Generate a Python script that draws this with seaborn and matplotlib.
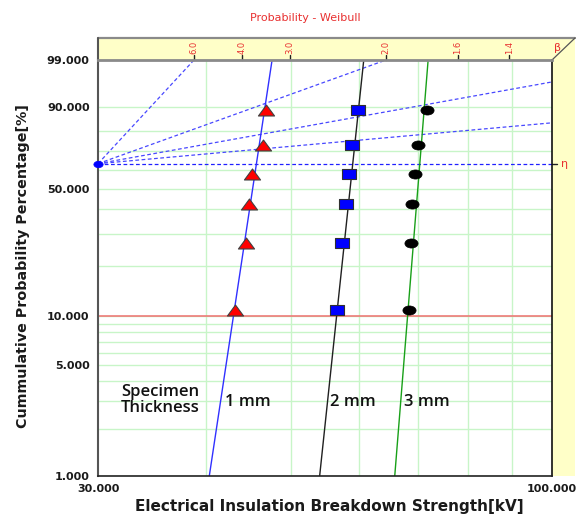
import numpy as np
import matplotlib
matplotlib.use("Agg")
import matplotlib.pyplot as plt
import seaborn as sns
from matplotlib.path import Path
from matplotlib.transforms import Affine2D
from matplotlib.patches import Polygon
from matplotlib.ticker import NullLocator

# median-rank probability (%) of the six specimens in each group
prob = [10.9, 26.6, 42.2, 57.8, 73.4, 89.1]
kv_1mm = [43.1, 44.4, 44.8, 45.1, 46.5, 46.8]
kv_2mm = [56.5, 57.3, 57.9, 58.4, 58.8, 59.8]
kv_3mm = [68.5, 68.8, 68.9, 69.6, 70.0, 71.7]

# fitted Weibull lines, read where they cross 1 % and 99 %
fit_prob = [1.0, 99.0]
fit_1mm = [40.3, 47.6]
fit_2mm = [54.0, 60.7]
fit_3mm = [65.9, 72.0]

# beta guide lines and the beta scale on the top band
beta_lines = [6.0, 2.0, 1.0, 0.5]
beta_ticks = [6.0, 4.0, 3.0, 2.0, 1.6, 1.4]

y_ticks = [1, 5, 10, 50, 90, 99]
y_grid = [1, 2, 3, 4, 5, 6, 7, 8, 9, 10, 20, 30, 40, 50, 60, 70, 80, 90]
x_grid = [40, 50, 60, 70, 80, 90]
x_ticks = [30, 100]
x_min, x_max = 30, 100
eta_prob = 100 * (1 - np.exp(-1))

RED = "#e83030"
GRID = "#c8f5c8"


def fwd(p):
    p = np.clip(np.asarray(p, dtype=float), 1e-4, 99.9999) / 100.0
    return np.log(-np.log(1 - p))


def inv(w):
    with np.errstate(over="ignore"):
        return 100.0 * (1 - np.exp(-np.exp(np.asarray(w, dtype=float))))


sns.set_style("white")
plt.rcParams["font.family"] = ["DejaVu Sans"]

fig = plt.figure(figsize=(5.82, 5.17), dpi=100)
ax = fig.add_axes([98 / 582, 1 - 476 / 517, 454 / 582, 416 / 517])
ax.set_xscale("log")
ax.set_yscale("function", functions=(fwd, inv))
ax.set_xlim(x_min, x_max)
ax.set_ylim(1, 99)

# grid
for g in y_grid:
    ax.axhline(g, color=GRID, lw=1, zorder=0.5)
for g in x_grid:
    ax.axvline(g, color=GRID, lw=1, zorder=0.5)
ax.axhline(10, color="#f07070", lw=1.1, zorder=0.6)

# beta guide lines from the pivot
w99 = float(fwd(99.0))
for b in beta_lines:
    x_end = min(x_max, x_min * np.exp(w99 / b))
    p_end = float(inv(b * np.log(x_end / x_min)))
    ax.plot([x_min, x_end], [eta_prob, p_end], ls=(0, (3, 2)), color="#4848ff",
            lw=0.9, zorder=1)
ax.plot([x_min, x_max], [eta_prob, eta_prob], ls=(0, (3, 2)), color="#2020ff",
        lw=0.9, zorder=1)

# fitted lines
sns.lineplot(x=fit_1mm, y=fit_prob, color="#3030ff", lw=1, sort=False, estimator=None, ax=ax, zorder=2)
sns.lineplot(x=fit_2mm, y=fit_prob, color="#202020", lw=1, sort=False, estimator=None, ax=ax, zorder=2)
sns.lineplot(x=fit_3mm, y=fit_prob, color="#18a018", lw=1, sort=False, estimator=None, ax=ax, zorder=2)

# markers
tri = Path([(0, 0.68), (-1, -0.68), (1, -0.68), (0, 0.68)],
           [Path.MOVETO, Path.LINETO, Path.LINETO, Path.CLOSEPOLY])
rect = Path([(-1.45, -1), (1.45, -1), (1.45, 1), (-1.45, 1), (-1.45, -1)],
            [Path.MOVETO, Path.LINETO, Path.LINETO, Path.LINETO, Path.CLOSEPOLY])
ell = Path.unit_circle().transformed(Affine2D().scale(1.45, 1))

sns.scatterplot(x=kv_1mm, y=prob, marker=tri, s=135, color="#ff0000",
                edgecolor="#404040", linewidth=0.8, ax=ax, zorder=5)
sns.scatterplot(x=kv_2mm, y=prob, marker=rect, s=90, color="#0000ff",
                edgecolor="#303030", linewidth=0.8, ax=ax, zorder=5)
sns.scatterplot(x=kv_3mm, y=prob, marker=ell, s=90, color="#000000",
                edgecolor="#000000", linewidth=0.5, ax=ax, zorder=5)
sns.scatterplot(x=[x_min], y=[eta_prob], marker=ell, s=45, color="#0000ff",
                edgecolor="#0000ff", linewidth=0.5, ax=ax, zorder=6, clip_on=False)

# ticks
ax.set_xticks(x_ticks)
ax.set_xticklabels([f"{v:.3f}" for v in x_ticks])
ax.set_yticks(y_ticks)
ax.set_yticklabels([f"{v:.3f}" for v in y_ticks])
ax.xaxis.set_minor_locator(NullLocator())
ax.yaxis.set_minor_locator(NullLocator())
ax.tick_params(axis="both", direction="out", length=4, width=1, color="#444444",
               labelsize=8, labelcolor="#1a1a1a", pad=2)
for lab in ax.get_xticklabels() + ax.get_yticklabels():
    lab.set_fontweight("bold")

for side, col, lw in [("left", "#555555", 1.5), ("bottom", "#222222", 1.2),
                      ("right", "#111111", 1.2), ("top", "#8a8a8a", 2.0)]:
    ax.spines[side].set_color(col)
    ax.spines[side].set_linewidth(lw)
    ax.spines[side].set_visible(True)

# yellow beta band on top and right
bx = (575 - 98) / 454
by = 1 + (60 - 38) / 416
band = Polygon([(0, 1), (0, by), (bx, by), (bx, 0), (1, 0), (1, 1)], closed=True,
               transform=ax.transAxes, facecolor="#ffffc8", edgecolor="none",
               clip_on=False, zorder=0)
ax.add_patch(band)
ax.plot([0, bx], [by, by], transform=ax.transAxes, color="#8a8a8a", lw=1.6, clip_on=False)
ax.plot([0, 0], [1, by], transform=ax.transAxes, color="#555555", lw=1.5, clip_on=False)
ax.plot([1, bx], [1, by], transform=ax.transAxes, color="#555555", lw=0.9, clip_on=False)

xt = ax.get_xaxis_transform()
for bt in beta_ticks:
    xb = x_min * np.exp(w99 / bt)
    ax.plot([xb, xb], [1, 1.011], transform=xt, color="#222222", lw=1, clip_on=False)
    ax.text(xb, 1.03, f"{bt:.1f}", transform=xt, rotation=90, ha="center", va="center",
            color=RED, fontsize=6)
ax.text(1.004, 1.03, "β", transform=ax.transAxes, ha="left", va="center", color=RED, fontsize=8)

yt = ax.get_yaxis_transform()
ax.plot([1, 1.012], [eta_prob, eta_prob], transform=yt, color="#222222", lw=1, clip_on=False)
ax.text(1.02, eta_prob, "η", transform=yt, ha="left", va="center", color=RED, fontsize=8)

# annotations
note_font = dict(family=["Open Sans", "DejaVu Sans"], weight=600, size=12, color="#111111")
ax.text(23 / 454, (476 - 400) / 416, "Specimen\nThickness", transform=ax.transAxes,
        ha="left", va="center", linespacing=0.95, **note_font)
for label, px in [("1 mm", 225), ("2 mm", 330), ("3 mm", 404)]:
    ax.text((px - 98) / 454, (476 - 402) / 416, label, transform=ax.transAxes,
            ha="left", va="center", **note_font)

fig.text(305 / 582, 1 - 18 / 517, "Probability - Weibull", ha="center", va="center",
         color=RED, fontsize=8)
fig.text(329 / 582, 1 - 506 / 517, "Electrical Insulation Breakdown Strength[kV]",
         ha="center", va="center", fontsize=11, fontweight="bold", color="#1a1a1a")
fig.text(23 / 582, 1 - 266 / 517, "Cummulative Probability Percentage[%]",
         ha="center", va="center", rotation=90, fontsize=10.3, fontweight="bold",
         color="#1a1a1a")

fig.savefig("out.png", dpi=100)
